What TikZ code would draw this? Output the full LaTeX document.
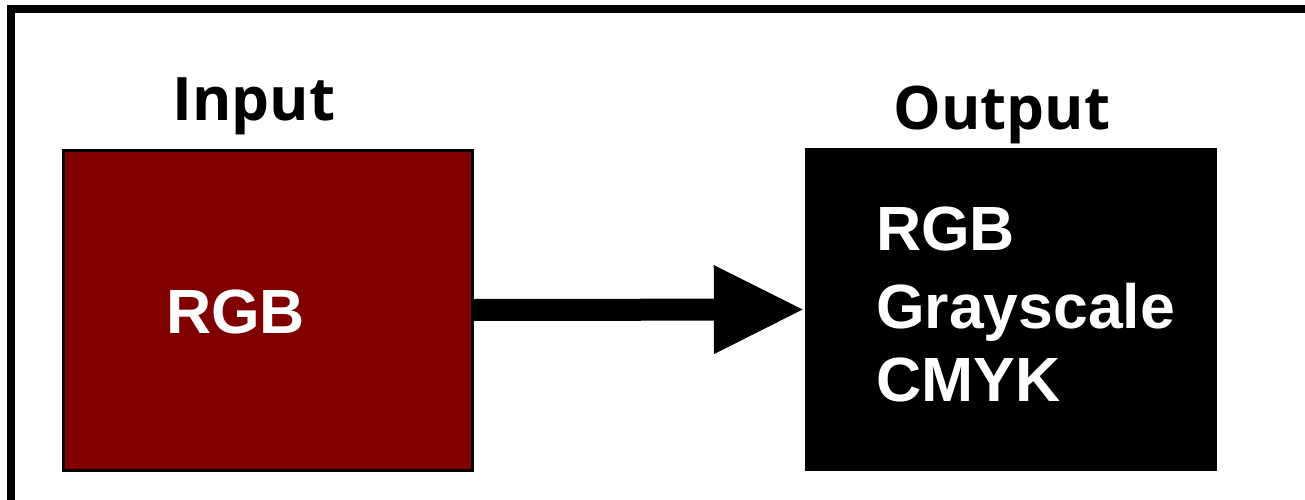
\documentclass[tikz,border=0pt]{standalone}
\usepackage{fontspec}
\setmainfont{Liberation Sans}
\newfontfamily\headfont{Open Sans}
\usetikzlibrary{arrows.meta}
\definecolor{inred}{RGB}{128,0,0}
\tikzset{
  head/.style={inner sep=0pt, anchor=base, font=\headfont\bfseries\fontsize{60}{60}\selectfont},
  boxtext/.style={inner sep=0pt, text=white, font=\bfseries\fontsize{62.5}{62.5}\selectfont},
  flow/.style={line width=22pt, -{Triangle[length=91pt,width=82pt]}}
}
\begin{document}
\begin{tikzpicture}[x=1pt,y=-1pt]
      \useasboundingbox (0,0) rectangle (1305,500);
      \clip (0,0) rectangle (1305,500);
      \draw[line width=8pt] (11,9) rectangle (1316,504);
      % boxes
      \node[draw=black, line width=3pt, fill=inred, minimum width=409pt, minimum height=320pt] (inbox) at (267.5,310) {};
      \node[fill=black, minimum width=412pt, minimum height=323pt, inner sep=0pt] (outbox) at (1011,309.5) {};
      % labels
      \node[head] (inlabel) at (254,121) {Input};
      \node[head] (outlabel) at (1002,129) {Output};
      \node[boxtext, anchor=base] (inrgb) at (235.5,333) {RGB};
      \node[boxtext, anchor=base west] (outrgb) at (876,250) {RGB};
      \node[boxtext, anchor=base west] (outgray) at (876,328) {Grayscale};
      \node[boxtext, anchor=base west] (outcmyk) at (876,401) {CMYK};
      % arrow
      \draw[flow] (inbox.east) -- (outbox.west);
    \end{tikzpicture}
\end{document}
